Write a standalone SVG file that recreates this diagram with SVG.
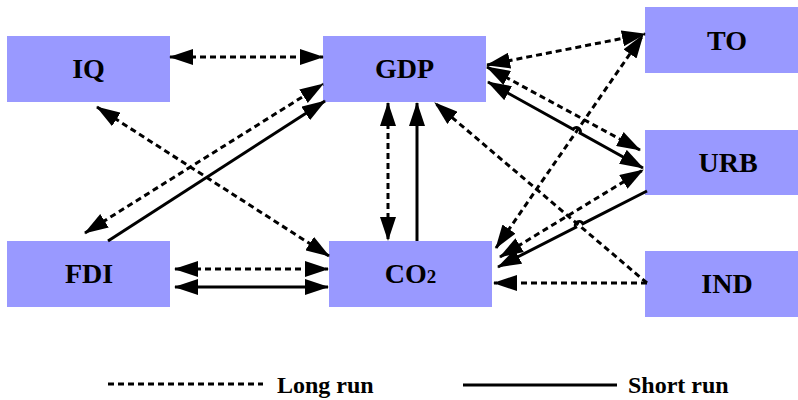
<svg xmlns="http://www.w3.org/2000/svg" width="798" height="400" viewBox="0 0 798 400">
<style>
.box{fill:#9999ff;}
.lbl{font-family:"Liberation Serif","Times New Roman",serif;font-weight:bold;font-size:28px;fill:#000;text-anchor:middle;}
.leg{font-family:"Liberation Serif","Times New Roman",serif;font-weight:bold;font-size:24px;fill:#000;}
.ds{fill:none;stroke:#000;stroke-width:3;stroke-dasharray:6,4;}
.sl{fill:none;stroke:#000;stroke-width:3;}
</style>
<defs>
<marker id="ah" markerUnits="userSpaceOnUse" markerWidth="24" markerHeight="16" refX="23" refY="8" orient="auto-start-reverse" viewBox="0 0 24 16">
<path d="M0,0 L24,8 L0,16 z" fill="#000"/>
</marker>
</defs>
<rect width="798" height="400" fill="#fff"/>
<g id="IQ"><rect class="box" x="7" y="36" width="163" height="66"/><text class="lbl" x="88.5" y="78">IQ</text></g>
<g id="GDP"><rect class="box" x="323" y="36" width="163" height="66"/><text class="lbl" x="404.5" y="78">GDP</text></g>
<g id="TO"><rect class="box" x="645" y="7" width="153" height="66"/><text class="lbl" x="727" y="50">TO</text></g>
<g id="URB"><rect class="box" x="645" y="130" width="153" height="65"/><text class="lbl" x="728" y="172">URB</text></g>
<g id="FDI"><rect class="box" x="7" y="241" width="163" height="66"/><text class="lbl" x="89" y="283">FDI</text></g>
<g id="CO2"><rect class="box" x="329" y="241" width="163" height="66"/><text class="lbl" x="410.5" y="283">CO<tspan font-size="19">2</tspan></text></g>
<g id="IND"><rect class="box" x="645" y="251" width="153" height="66"/><text class="lbl" x="727" y="293">IND</text></g>
<g id="connectors">
<line class="ds" x1="170" y1="57" x2="323" y2="57" marker-start="url(#ah)" marker-end="url(#ah)"/>
<line class="ds" x1="97" y1="107" x2="329" y2="256" marker-start="url(#ah)" marker-end="url(#ah)"/>
<line class="ds" x1="85" y1="233" x2="323" y2="84" marker-start="url(#ah)" marker-end="url(#ah)"/>
<line class="sl" x1="108" y1="241" x2="325" y2="101" marker-end="url(#ah)"/>
<line class="ds" x1="175" y1="269" x2="328" y2="269" marker-start="url(#ah)" marker-end="url(#ah)"/>
<line class="sl" x1="175" y1="287" x2="328" y2="287" marker-start="url(#ah)" marker-end="url(#ah)"/>
<line class="ds" x1="388" y1="103" x2="388" y2="240" marker-start="url(#ah)" marker-end="url(#ah)"/>
<line class="sl" x1="417" y1="241" x2="417" y2="103" marker-end="url(#ah)"/>
<line class="ds" x1="647" y1="283" x2="435" y2="103" marker-end="url(#ah)"/>
<line class="ds" x1="647" y1="283" x2="494" y2="283" marker-end="url(#ah)"/>
<line class="ds" x1="487" y1="65" x2="645" y2="34" marker-start="url(#ah)" marker-end="url(#ah)"/>
<line class="ds" x1="487" y1="67" x2="640" y2="150" marker-start="url(#ah)" marker-end="url(#ah)"/>
<path class="sl" d="M488,82 L573.1,129.3 A4,4 0 0 1 580.1,133.1 L643,168" marker-start="url(#ah)" marker-end="url(#ah)"/>
<path class="sl" d="M647,191 L582.9,223.7 A4,4 0 0 0 575.7,227.3 L498,267" marker-end="url(#ah)"/>
<line class="ds" x1="500" y1="257" x2="643" y2="170" marker-start="url(#ah)" marker-end="url(#ah)"/>
<line class="ds" x1="496" y1="248" x2="643" y2="35" marker-start="url(#ah)" marker-end="url(#ah)"/>
</g>
<g id="legend">
<line class="ds" x1="108" y1="384" x2="263" y2="384"/>
<text class="leg" x="277" y="393">Long run</text>
<line class="sl" x1="463" y1="385" x2="617" y2="385"/>
<text class="leg" x="628" y="393">Short run</text>
</g>
</svg>
